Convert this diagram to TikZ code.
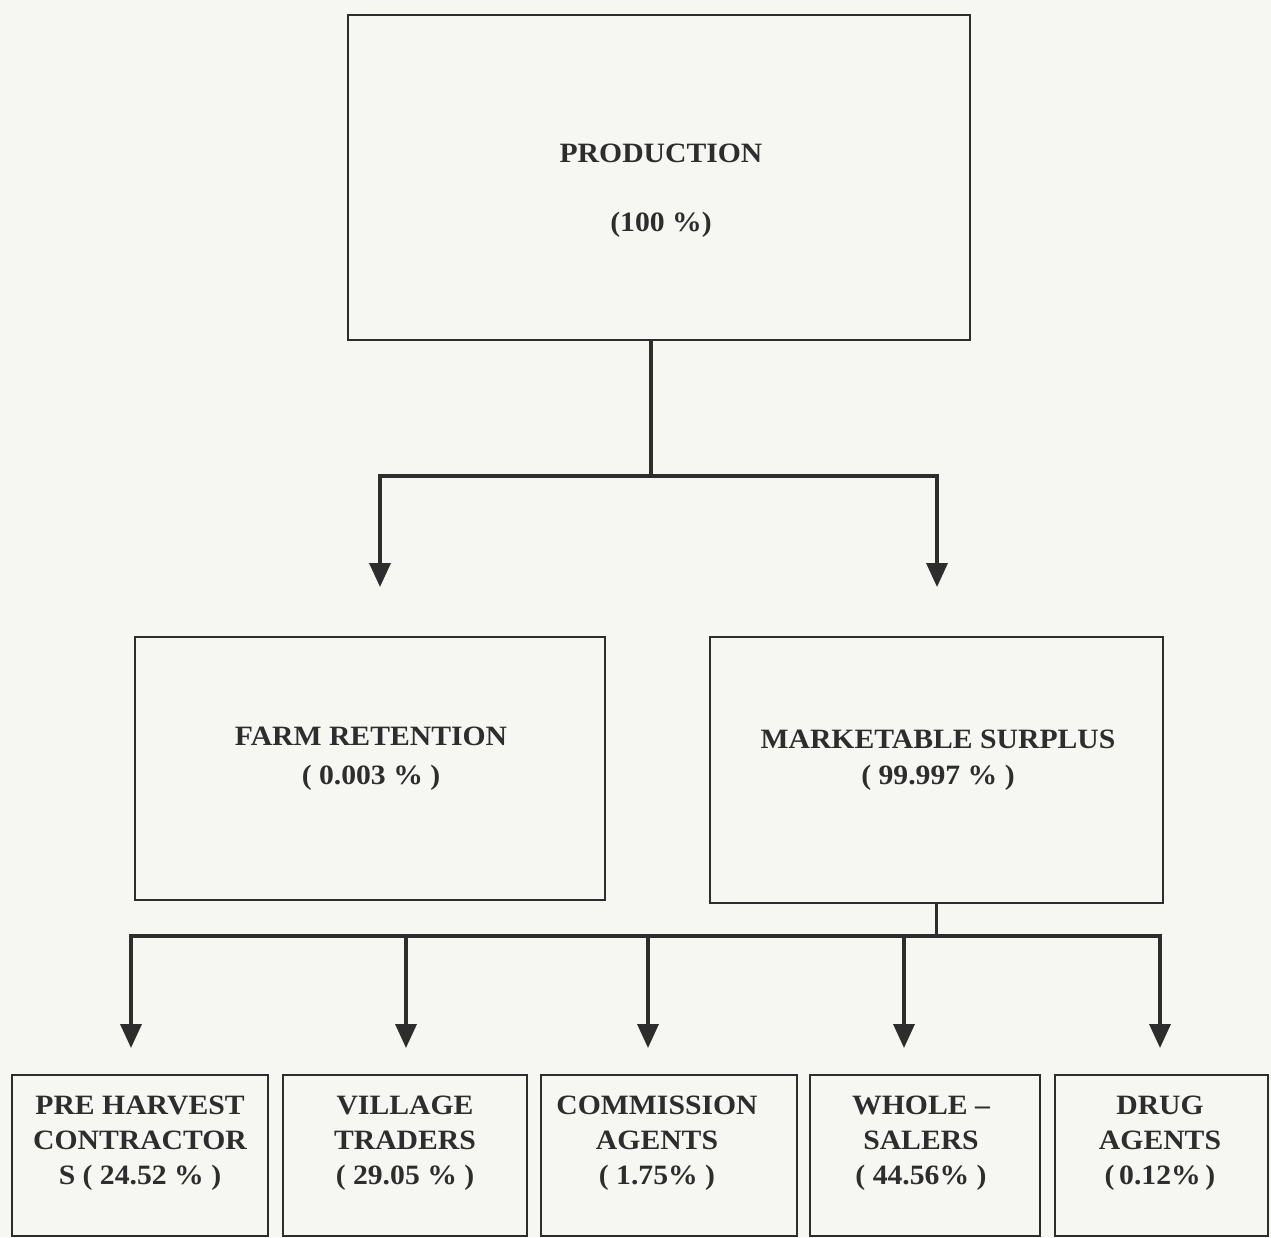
\documentclass[tikz,border=0pt]{standalone}
\usepackage{fontspec}
\setmainfont{Liberation Serif}[FakeStretch=1.06]
\usetikzlibrary{arrows.meta}
\definecolor{paper}{RGB}{246,246,243}
\definecolor{ink}{RGB}{45,45,45}

\begin{document}
\begin{tikzpicture}[x=1pt, y=-1pt,
    box/.style={draw=ink, line width=2.2pt, inner sep=0pt},
    lbl/.style={text=ink, font=\fontsize{28}{35}\selectfont\bfseries, align=center, inner sep=0pt},
    link/.style={draw=ink, line width=3.5pt},
    arr/.style={link, -{Triangle[length=24pt, width=21pt]}}]
                        \fill[paper] (0,0) rectangle (1271,1237);
                        \useasboundingbox (0,0) rectangle (1271,1237);

                        % boxes
                        \node[box, minimum width=622, minimum height=325] (prod) at (659,177.5) {};
                        \node[box, minimum width=470, minimum height=263] (farm) at (370,768.5) {};
                        \node[box, minimum width=453, minimum height=266] (mark) at (936.5,770) {};
                        \node[box, minimum width=256, minimum height=161] (pre)  at (140,1155.5) {};
                        \node[box, minimum width=244, minimum height=161] (vil)  at (405,1155.5) {};
                        \node[box, minimum width=256, minimum height=161] (com)  at (669,1155.5) {};
                        \node[box, minimum width=230, minimum height=161] (who)  at (925,1155.5) {};
                        \node[box, minimum width=213, minimum height=161] (drug) at (1161.5,1155.5) {};

                        % texts
                        \node[lbl] (prodtxt) at (661,191) {PRODUCTION\\[34pt](100 \%)};
                        \node[lbl] (farmtxt) at (371,759) {FARM RETENTION\\[4pt]( 0.003 \% )};
                        \node[lbl] (marktxt) at (938,760) {MARKETABLE SURPLUS\\[1pt]( 99.997 \% )};
                        \node[lbl] (pretxt)  at (140,1143) {PRE HARVEST\\CONTRACTOR\\S ( 24.52 \% )};
                        \node[lbl] (viltxt)  at (405,1143) {VILLAGE\\TRADERS\\( 29.05 \% )};
                        \node[lbl] (comtxt)  at (657,1143) {COMMISSION\\AGENTS\\( 1.75\% )};
                        \node[lbl] (whotxt)  at (921,1143) {WHOLE --\\SALERS\\( 44.56\% )};
                        \node[lbl] (drugtxt) at (1160,1143) {DRUG\\AGENTS\\(\,0.12\%\,)};

                        % branch points and arrow tips
                        \coordinate (hub1) at (651,476);
                        \coordinate (hub2) at (936.5,936);
                        \coordinate (tipF) at (380,587);
                        \coordinate (tipM) at (937,587);
                        \coordinate (tipP) at (131,1048);
                        \coordinate (tipV) at (406,1048);
                        \coordinate (tipC) at (648,1048);
                        \coordinate (tipW) at (904,1048);
                        \coordinate (tipD) at (1160,1048);

                        \draw[link] (prod.south -| hub1) -- (hub1);
                        \draw[arr] (hub1) -| (tipF);
                        \draw[arr] (hub1) -| (tipM);

                        \draw[link] (mark.south) -- (hub2);
                        \draw[arr] (hub2) -| (tipP);
                        \draw[arr] (hub2) -| (tipV);
                        \draw[arr] (hub2) -| (tipC);
                        \draw[arr] (hub2) -| (tipW);
                        \draw[arr] (hub2) -| (tipD);

                    \end{tikzpicture}
\end{document}
